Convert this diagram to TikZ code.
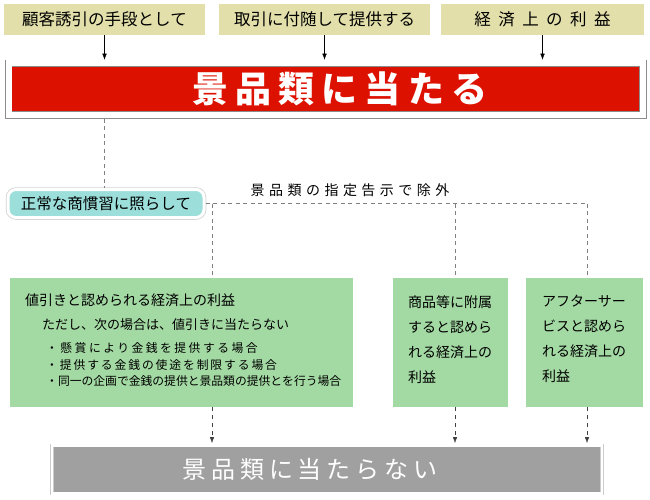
\documentclass[tikz,border=0pt]{standalone}
\usepackage{fontspec}
\newfontfamily\jp{Noto Sans CJK JP}
\usetikzlibrary{arrows.meta,positioning}
\definecolor{reqbeige}{RGB}{226,223,170}
\definecolor{hitred}{RGB}{221,17,0}
\definecolor{normteal}{RGB}{155,222,218}
\definecolor{exgreen}{RGB}{163,217,163}
\definecolor{nohitgray}{RGB}{160,160,160}

\begin{document}
\begin{tikzpicture}[x=1pt, y=-1pt,
    req/.style={fill=reqbeige, minimum height=31pt, inner sep=0pt,
                font=\jp\fontsize{16.5}{18}\selectfont},
    arrow/.style={-{Latex[length=6pt,width=4.5pt]}, thin, black},
    dline/.style={dashed, dash pattern=on 4pt off 3.5pt, color=black!50, thin},
    darrow/.style={arrow, dash pattern=on 4pt off 4pt, color=black!75},
    exbox/.style={fill=exgreen, minimum height=129pt, inner sep=0pt}
]
\useasboundingbox (0,0) rectangle (650,500);

%% Requirements
\node[req, minimum width=201pt] (req1) at (104.5,19.5) {顧客誘引の手段として};
\node[req, minimum width=211pt] (req2) at (324.5,19.5) {取引に付随して提供する};
\node[req, minimum width=203pt] (req3) at (542.5,19.5)
    {\addfontfeature{LetterSpace=45}経済上の利益};

%% Premium
\node[fill=hitred, draw=black!45, double=white, double distance=6pt, line width=0.8pt,
      outer sep=3.8pt, minimum width=634.5pt, minimum height=51.5pt, inner sep=0pt,
      text=white, font=\jp\bfseries\fontsize{36}{40}\selectfont] (hit) at (325.75,89.25)
    {\hspace*{28pt}\addfontfeature{LetterSpace=20}景品類に当たる};

%% Normal business practice
\node[fill=normteal, rounded corners=8pt, draw=white, line width=3pt,
      preaction={draw=black!18, line width=4.5pt},
      minimum width=196pt, minimum height=28pt, inner sep=0pt,
      font=\jp\fontsize{15.5}{17}\selectfont] (norm) at (106,203.5) {正常な商慣習に照らして};
\node[font=\jp\fontsize{14}{16}\selectfont] (exlabel) at (350,190)
    {\addfontfeature{LetterSpace=32}景品類の指定告示で除外};
\coordinate (jA) at (212,203.5);
\coordinate (jB) at (455,203.5);
\coordinate (jC) at (587,203.5);

%% Exclusions
\node[exbox, minimum width=343pt] (exA) at (181.5,342.5) {};
\node[exbox, minimum width=115pt] (exB) at (450.5,342.5) {};
\node[exbox, minimum width=117pt] (exC) at (584.5,342.5) {};

\node[anchor=north west, align=left, inner sep=0pt,
      font=\jp\fontsize{11.8}{16.5}\selectfont] (exAtext) at (25,294)
    {\fontsize{14}{16}\selectfont 値引きと認められる経済上の利益\\[7pt]
     \hspace*{17pt}\fontsize{13}{15}\selectfont ただし、次の場合は、値引きに当たらない\\[7pt]
     \hspace*{21pt}{\addfontfeature{LetterSpace=21}・懸賞により金銭を提供する場合}\\
     \hspace*{21pt}{\addfontfeature{LetterSpace=16}・提供する金銭の使途を制限する場合}\\
     \hspace*{21pt}・同一の企画で金銭の提供と景品類の提供とを行う場合};
\node[anchor=north west, align=left, inner sep=0pt,
      font=\jp\fontsize{14}{25}\selectfont] (exBtext) at (408,295)
    {商品等に附属\\すると認めら\\れる経済上の\\利益};
\node[anchor=north west, align=left, inner sep=0pt,
      font=\jp\fontsize{14}{25}\selectfont] (exCtext) at (542,295)
    {アフターサー\\ビスと認めら\\れる経済上の\\利益};

%% Not a premium
\node[fill=nohitgray, draw=black!20, double=white, double distance=2.5pt, line width=0.6pt,
      outer sep=2.5pt, minimum width=550pt, minimum height=48pt, inner sep=0pt,
      text=white, font=\jp\fontsize{24}{27}\selectfont] (nohit) at (327,469.5)
    {\addfontfeature{LetterSpace=20}景品類に当たらない\hspace*{34pt}};

%% Arrows
\draw[arrow] (req1.south) -- (req1.south |- hit.north);
\draw[arrow] (req2.south) -- (req2.south |- hit.north);
\draw[arrow] (req3.south) -- (req3.south |- hit.north);
\draw[dline] (hit.south -| req1.south) -- (req1.south |- norm.north);
\draw[dline] (norm.east) -- (jC);
\draw[dline] (jA) -- (jA |- exA.north);
\draw[dline] (jB) -- (jB |- exB.north);
\draw[dline] (jC) -- (jC |- exC.north);
\draw[darrow] (jA |- exA.south) -- (jA |- nohit.north);
\draw[darrow] (jB |- exB.south) -- (jB |- nohit.north);
\draw[darrow] (jC |- exC.south) -- (jC |- nohit.north);

\end{tikzpicture}
\end{document}
